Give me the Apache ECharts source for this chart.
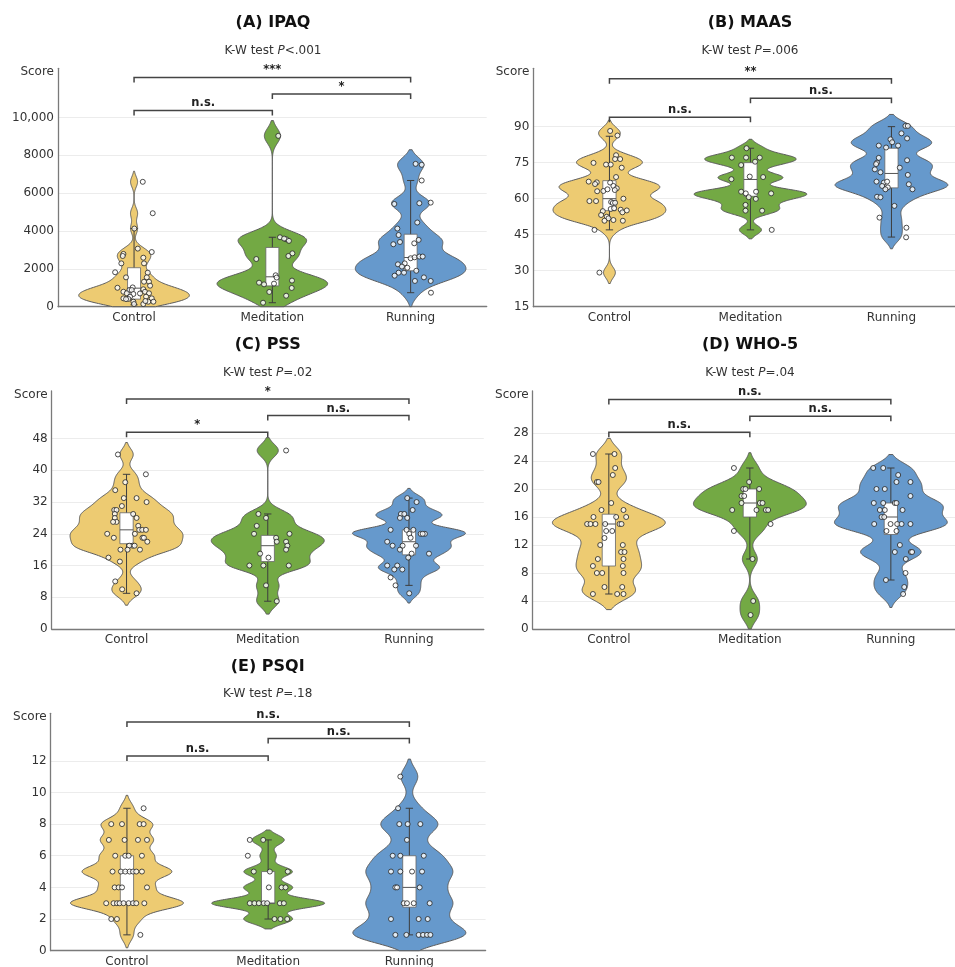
<!DOCTYPE html>
<html><head><meta charset="utf-8">
<script src="https://cdn.jsdelivr.net/npm/echarts@6/dist/echarts.min.js"></script>
<style>html,body{margin:0;padding:0;background:#fff}#c{width:955px;height:967px}</style>
</head><body><div id="c"></div>
<script>
// ---------------- DATA ----------------
const categories = ['Control', 'Meditation', 'Running'];
const panelTitles = ['(A) IPAQ', '(B) MAAS', '(C) PSS', '(D) WHO-5', '(E) PSQI'];
const kwPValues = ['<.001', '=.006', '=.02', '=.04', '=.18'];

// points: [jitter (category units), score]
const ipaqControl = [[0.063,6600],[0.135,4940],[0.002,4130],[0.027,3070],[0.128,2890],[-0.077,2790],[-0.082,2680],[0.067,2590],[-0.092,2290],[0.072,2290],[-0.137,1820],[-0.058,1550],[0.099,1800],[0.092,1550],[0.108,1320],[0.072,1320],[0.116,1110],[-0.120,1000],[-0.010,1020],[-0.034,880],[-0.077,790],[-0.053,710],[-0.017,880],[-0.005,670],[-0.029,530],[-0.077,440],[-0.041,410],[-0.005,265],[0.000,140],[0.067,920],[0.079,790],[0.108,710],[0.087,530],[0.128,440],[0.103,265],[0.140,265],[0.067,140],[0.043,700],[-0.058,400],[0.082,300]];
const ipaqMeditation = [[0.043,9030],[0.055,3670],[0.101,3560],[0.120,3480],[0.085,3600],[-0.116,2520],[0.145,2820],[0.116,2680],[0.024,1660],[0.031,1540],[-0.096,1270],[-0.060,1180],[0.012,1220],[0.142,1380],[0.140,990],[-0.022,780],[0.100,580],[-0.067,210]];
const ipaqRunning = [[0.036,7550],[0.080,7500],[0.080,6670],[-0.118,5430],[0.063,5470],[0.145,5500],[0.048,4450],[-0.096,4130],[-0.087,3790],[-0.077,3420],[-0.125,3300],[0.058,3530],[0.026,3350],[-0.092,2240],[-0.043,2290],[-0.063,2120],[-0.087,1800],[-0.116,1640],[-0.024,2060],[0.000,2560],[0.029,2610],[0.063,2650],[0.087,2650],[0.041,1900],[0.031,1360],[0.096,1550],[0.145,1360],[0.147,740],[-0.048,1800]];
const ipaqBox = [[100,400,980,2060,4130],[210,1100,1580,3130,3670],[740,1900,2600,3830,6670]];
const ipaqSig = ['n.s.', '*', '***'];
const ipaqTicks = [0,2000,4000,6000,8000,10000];

const maasControl = [[0.005,88.2],[0.057,86.3],[-0.113,74.9],[-0.024,74.2],[0.009,74.2],[0.047,78.1],[0.040,76.5],[0.076,76.5],[0.087,72.9],[-0.147,67.1],[-0.090,66.8],[-0.102,66.1],[0.005,66.7],[0.047,69.0],[-0.087,63.1],[-0.043,63.2],[-0.014,63.9],[0.028,65.3],[0.052,64.3],[0.038,63.6],[-0.142,59.0],[-0.095,59.0],[0.012,58.6],[0.024,58.2],[0.040,58.3],[0.009,55.7],[0.033,56.0],[0.099,60.0],[0.080,55.4],[0.123,55.1],[0.092,54.3],[-0.047,54.8],[-0.059,53.2],[-0.019,52.5],[-0.007,51.8],[-0.035,50.8],[0.028,51.1],[0.095,50.8],[-0.106,47.0],[-0.071,29.2]];
const maasMeditation = [[-0.028,81.0],[-0.132,77.1],[-0.031,77.1],[0.066,77.1],[0.033,75.4],[-0.066,74.0],[-0.135,68.1],[-0.005,69.2],[0.090,69.0],[-0.066,62.9],[-0.033,62.2],[0.040,62.9],[0.147,62.2],[-0.012,60.6],[0.038,59.9],[-0.035,57.4],[-0.035,55.0],[0.083,55.0],[0.151,47.0]];
const maasRunning = [[0.099,90.3],[0.116,90.3],[0.071,87.2],[-0.007,84.7],[0.005,83.5],[0.111,85.1],[-0.090,82.1],[-0.038,81.3],[0.047,82.1],[-0.090,77.0],[-0.102,75.0],[-0.109,74.4],[0.111,76.0],[-0.118,72.2],[-0.078,71.0],[0.059,72.9],[0.116,69.9],[-0.106,67.1],[-0.054,66.7],[-0.031,67.1],[-0.066,65.3],[-0.026,64.7],[-0.043,63.9],[0.123,66.0],[0.149,63.9],[-0.102,60.8],[-0.078,60.6],[0.021,57.0],[-0.085,52.1],[0.106,47.9],[0.104,43.9]];
const maasBox = [[47,55,60,67.5,86],[47,61,68,75,81],[44,64.5,70.5,81,90]];
const maasSig = ['n.s.', 'n.s.', '**'];
const maasTicks = [15,30,45,60,75,90];

const pssControl = [[-0.061,44],[-0.009,37],[0.137,39],[-0.080,35],[-0.019,33],[0.071,33],[0.142,32],[-0.033,31],[-0.087,30],[-0.071,30],[-0.083,29],[-0.083,28],[-0.071,27],[-0.095,27],[0.047,29],[0.071,28],[-0.137,24],[-0.090,23],[0.059,24],[0.083,26],[0.090,25],[0.111,25],[0.137,25],[0.113,23],[0.123,23],[0.147,22],[0.043,21],[0.019,21],[0.057,21],[0.007,20],[-0.043,20],[0.095,20],[-0.128,18],[-0.047,17],[-0.080,12],[-0.031,10],[0.071,9]];
const pssMeditation = [[0.130,45],[-0.066,29],[-0.012,28],[-0.078,26],[-0.097,24],[0.154,24],[0.059,23],[0.064,22],[0.130,22],[0.139,21],[0.130,20],[-0.054,19],[0.005,18],[-0.130,16],[-0.031,16],[0.149,16],[-0.012,11],[0.064,7]];
const pssRunning = [[-0.012,33],[0.054,32],[0.026,30],[-0.057,29],[-0.033,29],[-0.064,28],[-0.012,28],[-0.130,25],[-0.017,25],[0.031,25],[0.083,24],[0.113,24],[0.097,24],[0.002,24],[0.012,23],[-0.154,22],[-0.116,21],[0.050,21],[-0.045,21],[-0.064,20],[0.019,19],[0.142,19],[-0.005,18],[-0.154,16],[-0.083,16],[-0.104,15],[-0.047,15],[-0.130,13],[-0.095,11],[0.002,9]];
const pssBox = [[9,21.5,25,29.3,39],[7,17,21,23.6,29],[11,18.7,22,25,33]];
const pssSig = ['*', 'n.s.', '*'];
const pssTicks = [0,8,16,24,32,40,48];

const whoControl = [[-0.113,25],[0.040,25],[0.045,23],[0.028,22],[-0.085,21],[-0.073,21],[0.017,18],[-0.052,17],[0.104,17],[-0.109,16],[0.052,16],[0.123,16],[-0.154,15],[-0.130,15],[-0.095,15],[-0.026,15],[0.076,15],[0.090,15],[-0.019,14],[0.024,14],[-0.031,13],[-0.061,12],[0.099,12],[0.087,11],[0.111,11],[-0.078,10],[0.104,10],[-0.113,9],[0.099,9],[-0.085,8],[-0.047,8],[0.104,8],[-0.031,6],[0.095,6],[-0.113,5],[0.059,5],[0.104,5]];
const whoMeditation = [[-0.113,23],[-0.005,21],[-0.047,20],[-0.031,20],[0.066,20],[-0.059,19],[-0.040,19],[-0.059,18],[0.071,18],[0.090,18],[-0.125,17],[0.047,17],[0.113,17],[0.130,17],[0.147,15],[-0.113,14],[0.019,10],[0.024,4],[0.005,2]];
const whoRunning = [[-0.125,23],[-0.054,23],[0.052,22],[0.139,21],[0.040,21],[-0.102,20],[-0.043,20],[0.139,19],[-0.121,18],[-0.054,18],[0.028,18],[0.040,18],[-0.078,17],[-0.043,17],[0.083,17],[-0.066,16],[-0.047,16],[-0.118,15],[0.045,15],[0.076,15],[0.139,15],[-0.002,15],[-0.031,14],[0.040,14],[0.064,12],[0.028,11],[0.142,11],[0.151,11],[0.106,10],[0.104,8],[-0.035,7],[0.095,6],[0.087,5]];
const whoBox = [[5,9,15,16.4,25],[10,16,18,20,23],[7,13.5,16,18,23]];
const whoSig = ['n.s.', 'n.s.', 'n.s.'];
const whoTicks = [0,4,8,12,16,20,24,28];

const psqiControl = [[0.118,9],[-0.111,8],[-0.035,8],[0.090,8],[0.118,8],[-0.128,7],[-0.017,7],[0.078,7],[0.142,7],[-0.083,6],[-0.012,6],[0.012,6],[0.106,6],[-0.102,5],[-0.043,5],[-0.012,5],[0.019,5],[0.043,5],[0.066,5],[0.106,5],[-0.087,4],[-0.059,4],[-0.035,4],[0.142,4],[-0.147,3],[-0.095,3],[-0.071,3],[-0.052,3],[-0.024,3],[0.012,3],[0.043,3],[0.066,3],[0.123,3],[-0.111,2],[-0.071,2],[0.095,1]];
const psqiMeditation = [[-0.130,7],[-0.035,7],[-0.144,6],[-0.102,5],[0.012,5],[0.139,5],[0.005,4],[0.095,4],[0.123,4],[-0.130,3],[-0.097,3],[-0.066,3],[-0.031,3],[-0.007,3],[0.083,3],[0.111,3],[0.045,2],[0.087,2],[0.135,2]];
const psqiRunning = [[-0.064,11],[-0.080,9],[-0.071,8],[-0.012,8],[0.078,8],[-0.017,7],[-0.118,6],[-0.064,6],[0.102,6],[-0.130,5],[-0.064,5],[0.019,5],[0.090,5],[-0.099,4],[-0.087,4],[0.073,4],[-0.040,3],[-0.017,3],[0.031,3],[0.144,3],[-0.130,2],[0.066,2],[0.130,2],[-0.099,1],[-0.021,1],[0.066,1],[0.097,1],[0.125,1],[0.149,1]];
const psqiBox = [[1,3,5,6,9],[2,3,3,5,7],[1,2.75,4,6,9]];
const psqiSig = ['n.s.', 'n.s.', 'n.s.'];
const psqiTicks = [0,2,4,6,8,10,12];

// ---------------- LAYOUT / STYLE ----------------
const FONT = 'DejaVu Sans';
const violinColors = ['#EDCB72', '#73A944', '#6699CC'];
const layout = [
  {left:58, top:68.3, width:428.7, height:238.4, xMin:-0.55, xMax:2.55, yMin:0, yMax:12600, br:[10370,11238,12116], tx:273, ty:23, sy:51},
  {left:533.3, top:68.3, width:434.3, height:238.4, xMin:-0.54, xMax:2.54, yMin:15, yMax:114.3, br:[93.9,101.8,109.9], tx:750, ty:23, sy:51},
  {left:51.7, top:391, width:432.1, height:238, xMin:-0.53, xMax:2.53, yMin:0, yMax:60, br:[49.6,53.8,58.0], tx:267.7, ty:345, sy:372.7},
  {left:532.7, top:391, width:434.3, height:238, xMin:-0.54, xMax:2.54, yMin:0, yMax:34, br:[28.1,30.4,32.8], tx:750, ty:345, sy:372.7},
  {left:50.7, top:713.3, width:434.9, height:237.4, xMin:-0.54, xMax:2.54, yMin:0, yMax:15, br:[12.3,13.4,14.45], tx:267.7, ty:666.7, sy:694.3}
];

const panels = [
  {groups:[ipaqControl, ipaqMeditation, ipaqRunning], box:ipaqBox, sig:ipaqSig, ticks:ipaqTicks},
  {groups:[maasControl, maasMeditation, maasRunning], box:maasBox, sig:maasSig, ticks:maasTicks},
  {groups:[pssControl, pssMeditation, pssRunning], box:pssBox, sig:pssSig, ticks:pssTicks},
  {groups:[whoControl, whoMeditation, whoRunning], box:whoBox, sig:whoSig, ticks:whoTicks},
  {groups:[psqiControl, psqiMeditation, psqiRunning], box:psqiBox, sig:psqiSig, ticks:psqiTicks}
];

// Gaussian KDE (bandwidth factor 0.2 x SD, cut = 2 bandwidths), scaled to equal max width
function kdeProfile(vals, yMin) {
  const n = vals.length;
  const mean = vals.reduce((a, b) => a + b, 0) / n;
  const sd = Math.sqrt(vals.reduce((a, b) => a + (b - mean) * (b - mean), 0) / (n - 1));
  const bw = 0.2 * sd;
  const lo = Math.min(...vals) - 2 * bw, hi = Math.max(...vals) + 2 * bw;
  const N = 260;
  const dens = y => vals.reduce((s, v) => s + Math.exp(-0.5 * ((y - v) / bw) ** 2), 0);
  let maxD = 0;
  const full = [];
  for (let i = 0; i < N; i++) { const y = lo + (hi - lo) * i / (N - 1); const d = dens(y); full.push([y, d]); if (d > maxD) maxD = d; }
  const start = Math.max(lo, yMin);
  const out = [];
  for (let i = 0; i < N; i++) { const y = start + (hi - start) * i / (N - 1); out.push([y, dens(y) / maxD]); }
  return out;
}

const grids = [], xAxes = [], yAxes = [], series = [], graphics = [];

panels.forEach((p, i) => {
  const L = layout[i];
  grids.push({left:L.left, top:L.top, width:L.width, height:L.height, containLabel:false, outerBoundsMode:'none'});
  xAxes.push({
    type:'value', gridIndex:i, min:L.xMin, max:L.xMax,
    axisLine:{show:true, onZero:false, lineStyle:{color:'#7a7a7a', width:1.3}},
    axisTick:{show:false},
    splitLine:{show:false},
    axisLabel:{customValues:[0,1,2], formatter:v => categories[Math.round(v)], color:'#333', fontSize:12, fontFamily:FONT, margin:5}
  });
  yAxes.push({
    type:'value', gridIndex:i, min:L.yMin, max:L.yMax,
    name:'Score', nameLocation:'end', nameGap:-4,
    nameTextStyle:{color:'#333', fontSize:12, fontFamily:FONT, align:'right', verticalAlign:'middle', padding:[0,4,0,0]},
    axisLine:{show:true, onZero:false, lineStyle:{color:'#7a7a7a', width:1.3}},
    axisTick:{show:false, customValues:p.ticks},
    splitLine:{show:true, lineStyle:{color:'#ececec', width:1}},
    axisLabel:{customValues:p.ticks, color:'#333', fontSize:12, fontFamily:FONT, margin:4,
      formatter:v => v >= 10000 ? v.toLocaleString('en-US') : String(v)}
  });

  const profiles = p.groups.map(g => kdeProfile(g.map(d => d[1]), L.yMin));
  series.push({
    type:'custom', xAxisIndex:i, yAxisIndex:i, z:1, silent:true,
    data:p.box.map((b, g) => [g, b[2]]),
    encode:{x:0, y:1},
    renderItem:(params, api) => {
      const g = params.dataIndex;
      const right = [], left = [];
      profiles[g].forEach(([y, w]) => {
        right.push(api.coord([g + 0.4 * w, y]));
        left.push(api.coord([g - 0.4 * w, y]));
      });
      return {type:'polygon', shape:{points:right.concat(left.reverse())},
        style:{fill:violinColors[g], stroke:'#5c5c5c', lineWidth:1}};
    }
  });
  series.push({
    type:'custom', xAxisIndex:i, yAxisIndex:i, z:2, silent:true,
    data:p.box.map((b, g) => [g, b[2]]),
    encode:{x:0, y:1},
    renderItem:(params, api) => {
      const g = params.dataIndex;
      const [lo, q1, md, q3, hi] = p.box[g];
      const hw = 0.047, cw = 0.026;
      const a = api.coord([g, lo]), b = api.coord([g, hi]);
      const tl = api.coord([g - hw, q3]), br = api.coord([g + hw, q1]);
      const m1 = api.coord([g - hw, md]), m2 = api.coord([g + hw, md]);
      const c1 = api.coord([g - cw, lo]), c2 = api.coord([g + cw, lo]);
      const c3 = api.coord([g - cw, hi]), c4 = api.coord([g + cw, hi]);
      const ls = {stroke:'#3d3d3d', lineWidth:1};
      return {type:'group', children:[
        {type:'line', shape:{x1:a[0], y1:a[1], x2:b[0], y2:b[1]}, style:ls},
        {type:'line', shape:{x1:c1[0], y1:c1[1], x2:c2[0], y2:c2[1]}, style:ls},
        {type:'line', shape:{x1:c3[0], y1:c3[1], x2:c4[0], y2:c4[1]}, style:ls},
        {type:'rect', shape:{x:tl[0], y:tl[1], width:br[0] - tl[0], height:br[1] - tl[1]}, style:{fill:'#ffffff', stroke:'#666', lineWidth:0.8}},
        {type:'line', shape:{x1:m1[0], y1:m1[1], x2:m2[0], y2:m2[1]}, style:{stroke:'#555', lineWidth:1}}
      ]};
    }
  });
  p.groups.forEach((pts, g) => {
    series.push({
      type:'scatter', xAxisIndex:i, yAxisIndex:i, z:3, silent:true,
      symbol:'circle', symbolSize:5,
      itemStyle:{color:'#ffffff', borderColor:'#222', borderWidth:1},
      data:pts.map(([j, v]) => [g + j, v])
    });
  });
  const pairs = [[0,1],[1,2],[0,2]];
  series.push({
    type:'custom', xAxisIndex:i, yAxisIndex:i, z:4, silent:true,
    data:pairs.map((pr, k) => [pr[0], L.br[k]]),
    encode:{x:0, y:1},
    renderItem:(params, api) => {
      const k = params.dataIndex;
      const pr = pairs[k];
      const p1 = api.coord([pr[0], L.br[k]]), p2 = api.coord([pr[1], L.br[k]]);
      const drop = 5;
      return {type:'group', children:[
        {type:'polyline', shape:{points:[[p1[0], p1[1] + drop], [p1[0], p1[1]], [p2[0], p2[1]], [p2[0], p2[1] + drop]]},
          style:{stroke:'#444', lineWidth:1.5, fill:null}},
        {type:'text', x:(p1[0] + p2[0]) / 2, y:p1[1] - 1,
          style:{text:p.sig[k], fill:'#222', font:'bold 11.5px "DejaVu Sans"', align:'center', verticalAlign:'bottom'}}
      ]};
    }
  });

  graphics.push({type:'text', x:L.tx, y:L.ty,
    style:{text:panelTitles[i], fill:'#111', font:'bold 16px "DejaVu Sans"', align:'center', verticalAlign:'middle'}});
  graphics.push({type:'text', x:L.tx, y:L.sy,
    style:{text:'{n|K-W test }{i|P}{n|' + kwPValues[i] + '}', align:'center', verticalAlign:'middle',
      rich:{n:{fontFamily:FONT, fontSize:12, fill:'#333'}, i:{fontFamily:FONT, fontSize:12, fontStyle:'italic', fill:'#333'}}}});
});

const chart = echarts.init(document.getElementById('c'), null, {renderer:'canvas'});
chart.setOption({
  backgroundColor:'#ffffff',
  animation:false,
  grid:grids, xAxis:xAxes, yAxis:yAxes, series:series,
  graphic:{elements:graphics}
});
</script></body></html>
